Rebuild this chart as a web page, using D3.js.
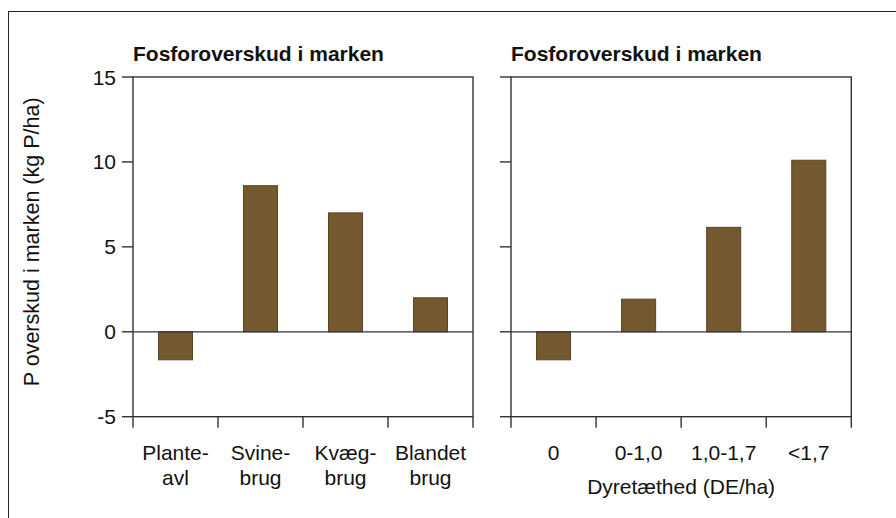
<!DOCTYPE html>
<html>
<head>
<meta charset="utf-8">
<script src="https://cdn.jsdelivr.net/npm/d3@7"></script>
<style>
  html, body { margin: 0; padding: 0; background: #fff; }
  svg { display: block; }
  text { font-family: "Liberation Sans", Arial, Helvetica, sans-serif; fill: #111; }
</style>
</head>
<body>
<svg id="chart" width="896" height="518"></svg>
<script>
// ---- Data ----
const titleText = "Fosforoverskud i marken";
const yLabel = "P overskud i marken (kg P/ha)";
const xLabelRight = "Dyretæthed (DE/ha)";
const leftCategories = [["Plante-", "avl"], ["Svine-", "brug"], ["Kvæg-", "brug"], ["Blandet", "brug"]];
const leftValues = [-1.65, 8.6, 7.0, 2.0];
const rightCategories = [["0"], ["0-1,0"], ["1,0-1,7"], ["<1,7"]];
const rightValues = [-1.65, 1.92, 6.15, 10.1];
const yTicks = [-5, 0, 5, 10, 15];
const yDomain = [-5, 15];

// ---- Layout ----
const W = 896, H = 518;
const plotTop = 77, plotBottom = 416.7;
const panels = [
  { x0: 133, x1: 473, cats: leftCategories, vals: leftValues, labels: true, xTitle: null },
  { x0: 511, x1: 851.3, cats: rightCategories, vals: rightValues, labels: false, xTitle: xLabelRight }
];
const barFill = "#735830";
const barStroke = "#5c4420";
const axisColor = "#333";

const svg = d3.select("#chart");

// outer frame
svg.append("rect")
  .attr("x", 8.5).attr("y", 11.5)
  .attr("width", W).attr("height", H)
  .attr("fill", "none").attr("stroke", "#222").attr("stroke-width", 1);

const y = d3.scaleLinear().domain(yDomain).range([plotBottom, plotTop]);

panels.forEach(p => {
  const g = svg.append("g");
  const idx = d3.range(p.vals.length);
  const x = d3.scaleBand().domain(idx).range([p.x0, p.x1])
    .paddingInner(0.6).paddingOuter(0.3);
  const step = x.step();
  const boundaries = d3.range(p.vals.length + 1).map(i => p.x0 + i * step);

  // title
  g.append("text")
    .attr("x", p.x0).attr("y", 61)
    .attr("font-size", 21).attr("font-weight", "bold")
    .text(titleText);

  // bars
  g.selectAll("rect.bar").data(p.vals).join("rect")
    .attr("class", "bar")
    .attr("x", (d, i) => x(i))
    .attr("width", x.bandwidth())
    .attr("y", d => y(Math.max(0, d)))
    .attr("height", d => Math.abs(y(d) - y(0)))
    .attr("fill", barFill)
    .attr("stroke", barStroke).attr("stroke-width", 1);

  // zero line
  g.append("line")
    .attr("x1", p.x0).attr("x2", p.x1)
    .attr("y1", y(0)).attr("y2", y(0))
    .attr("stroke", axisColor).attr("stroke-width", 1.2);

  // frame
  g.append("rect")
    .attr("x", p.x0).attr("y", plotTop)
    .attr("width", p.x1 - p.x0).attr("height", plotBottom - plotTop)
    .attr("fill", "none").attr("stroke", axisColor).attr("stroke-width", 1.4);

  // y ticks
  g.selectAll("line.yt").data(yTicks).join("line")
    .attr("class", "yt")
    .attr("x1", p.x0 - 11).attr("x2", p.x0)
    .attr("y1", d => y(d)).attr("y2", d => y(d))
    .attr("stroke", axisColor).attr("stroke-width", 1.4);
  if (p.labels) {
    g.selectAll("text.yl").data(yTicks).join("text")
      .attr("class", "yl")
      .attr("x", p.x0 - 17).attr("y", d => y(d))
      .attr("dy", "0.36em")
      .attr("text-anchor", "end")
      .attr("font-size", 21)
      .text(d => d);
  }

  // x ticks at band boundaries
  g.selectAll("line.xt").data(boundaries).join("line")
    .attr("class", "xt")
    .attr("x1", d => d).attr("x2", d => d)
    .attr("y1", plotBottom).attr("y2", plotBottom + 11)
    .attr("stroke", axisColor).attr("stroke-width", 1.4);

  // category labels
  p.cats.forEach((lines, i) => {
    const t = g.append("text")
      .attr("x", x(i) + x.bandwidth() / 2)
      .attr("y", 460)
      .attr("text-anchor", "middle")
      .attr("font-size", 21);
    lines.forEach((ln, j) => {
      t.append("tspan")
        .attr("x", x(i) + x.bandwidth() / 2)
        .attr("dy", j === 0 ? 0 : 25)
        .text(ln);
    });
  });

  if (p.xTitle) {
    g.append("text")
      .attr("x", (p.x0 + p.x1) / 2).attr("y", 494)
      .attr("text-anchor", "middle")
      .attr("font-size", 21)
      .text(p.xTitle);
  }
});

// y axis label
svg.append("text")
  .attr("transform", `translate(39, ${(plotTop + plotBottom) / 2 - 5}) rotate(-90)`)
  .attr("text-anchor", "middle")
  .attr("font-size", 21.5)
  .text(yLabel);
</script>
</body>
</html>
